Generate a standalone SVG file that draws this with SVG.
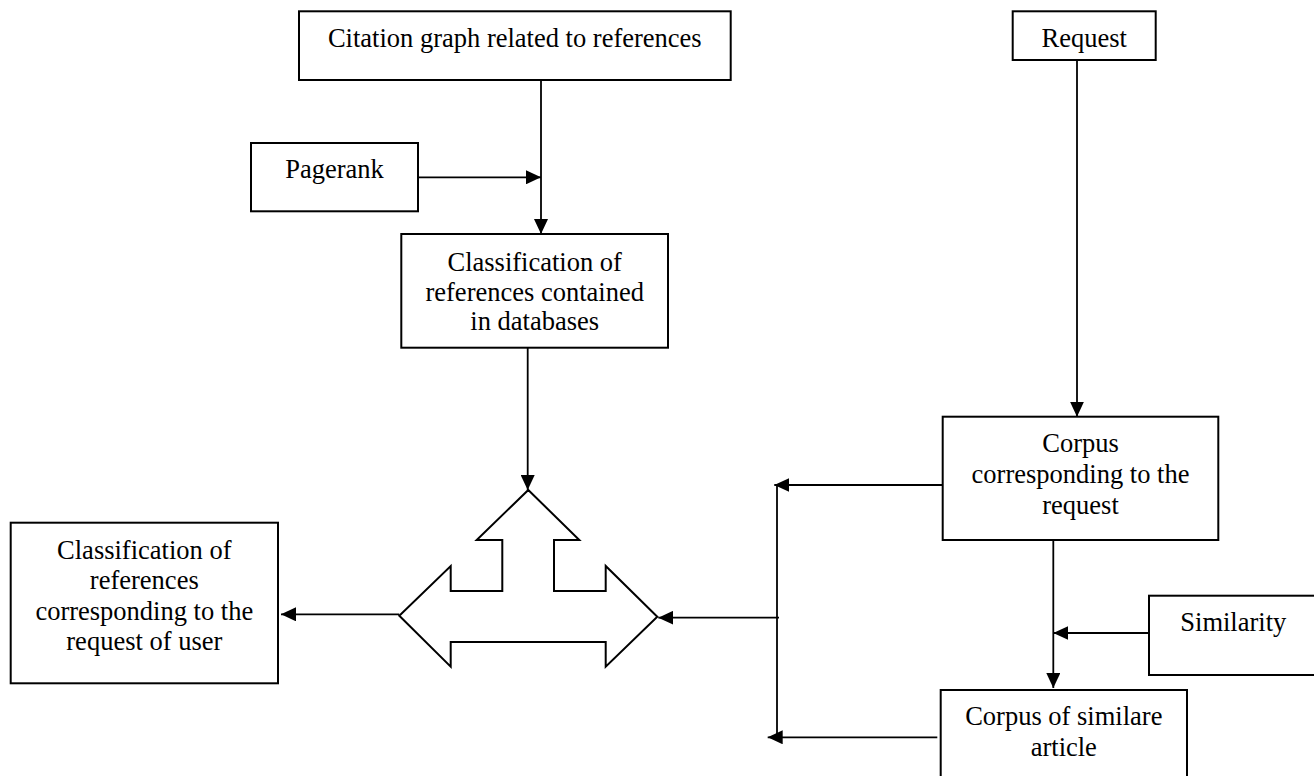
<svg xmlns="http://www.w3.org/2000/svg" width="1314" height="776" viewBox="0 0 1314 776">
<defs>
<marker id="ah" markerUnits="userSpaceOnUse" markerWidth="16" markerHeight="14" refX="15" refY="7" orient="auto">
<path d="M0,0 L15,7 L0,14 z" fill="#000"/>
</marker>
<style>
.box{fill:#fff;stroke:#000;stroke-width:2}
.t{font-family:"Liberation Serif","Times New Roman",serif;font-size:26.5px;fill:#000;text-anchor:middle}
.ln{fill:none;stroke:#000;stroke-width:1.8}
.arr{fill:none;stroke:#000;stroke-width:1.8;marker-end:url(#ah)}
</style>
</defs>
<rect width="1314" height="776" fill="#fff"/>
<g id="connectors">
<line class="arr" x1="541" y1="80" x2="541" y2="234"/>
<line class="arr" x1="418" y1="177.3" x2="541" y2="177.3"/>
<line class="arr" x1="527.7" y1="347.7" x2="527.7" y2="490"/>
<line class="arr" x1="399.3" y1="614.3" x2="281" y2="614.3"/>
<line class="arr" x1="1077" y1="60" x2="1077" y2="416.7"/>
<line class="arr" x1="942.7" y1="485" x2="774.3" y2="485"/>
<line class="ln" x1="777" y1="485" x2="777" y2="737.3"/>
<line class="arr" x1="779" y1="617.7" x2="658.3" y2="617.7"/>
<line class="arr" x1="937.3" y1="737.3" x2="767.7" y2="737.3"/>
<line class="arr" x1="1053.3" y1="540" x2="1053.3" y2="688"/>
<line class="arr" x1="1149" y1="633" x2="1053.3" y2="633"/>
</g>
<g id="citation">
<rect class="box" x="299" y="11.3" width="431.7" height="68.7"/>
<text class="t" x="514.8" y="46.8">Citation graph related to references</text>
</g>
<g id="pagerank">
<rect class="box" x="251" y="143" width="167" height="68.3"/>
<text class="t" x="334.5" y="178">Pagerank</text>
</g>
<g id="classification-db">
<rect class="box" x="401.3" y="234" width="266.7" height="113.7"/>
<text class="t" x="534.7" y="271.2">Classification of</text>
<text class="t" x="534.7" y="300.8">references contained</text>
<text class="t" x="534.7" y="330.2">in databases</text>
</g>
<g id="merge-arrow">
<polygon class="box" points="528.3,490 579.3,540 554,540 554,591 605.7,591 605.7,566 657.3,616.7 605.7,666.7 605.7,642 450.7,642 450.7,666.7 399.3,615.7 450.7,566 450.7,591 502.3,591 502.3,540 476.7,540"/>
</g>
<g id="classification-user">
<rect class="box" x="10.7" y="522.7" width="267.3" height="160.6"/>
<text class="t" x="144.3" y="558.5">Classification of</text>
<text class="t" x="144.3" y="588.8">references</text>
<text class="t" x="144.3" y="619.5">corresponding to the</text>
<text class="t" x="144.3" y="650.2">request of user</text>
</g>
<g id="request">
<rect class="box" x="1012.7" y="11.3" width="143" height="48.7"/>
<text class="t" x="1084.2" y="46.8">Request</text>
</g>
<g id="corpus-request">
<rect class="box" x="942.7" y="416.7" width="275.6" height="123.3"/>
<text class="t" x="1080.5" y="451.8">Corpus</text>
<text class="t" x="1080.5" y="482.5">corresponding to the</text>
<text class="t" x="1080.5" y="513.5">request</text>
</g>
<g id="similarity">
<rect class="box" x="1149" y="595.7" width="169" height="79.3"/>
<text class="t" x="1233.3" y="631">Similarity</text>
</g>
<g id="corpus-similar">
<rect class="box" x="940.7" y="690" width="246.3" height="100"/>
<text class="t" x="1063.8" y="725.2">Corpus of similare</text>
<text class="t" x="1063.8" y="756.2">article</text>
</g>
</svg>
